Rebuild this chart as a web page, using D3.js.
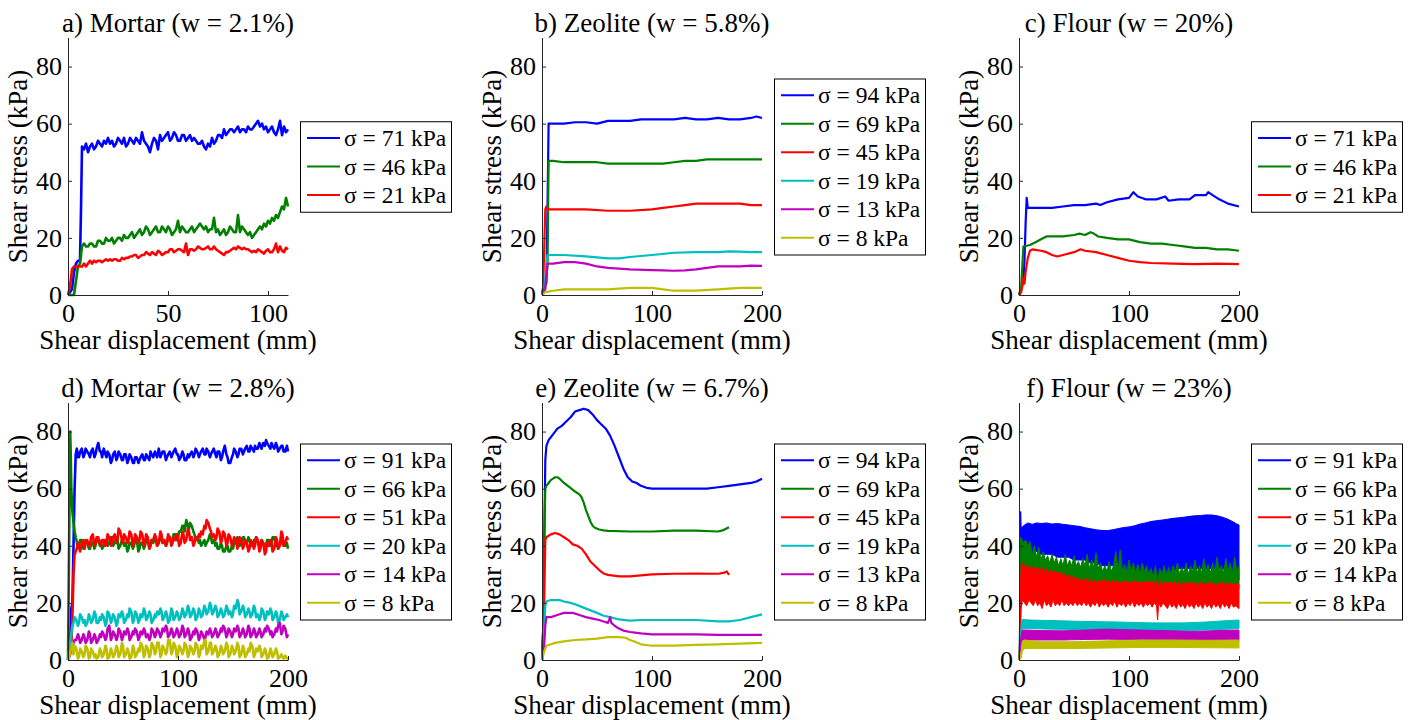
<!DOCTYPE html>
<meta charset="utf-8">
<script src="https://d3js.org/d3.v7.min.js"></script>
<div id="chart"></div>
<script>

// ---- data: [shear displacement (mm), shear stress (kPa)] ----

// a) Mortar, w = 2.1 %
const a71 = [[0,0],[2,2],[3,8],[4,11],[5,12],[6,12],[6.5,30],[7,52],[8,51],[9,53],[10,50],[11,52],[12,53],[13,51],[14,52],[15,54],[16,53],[17,52],[18,54],[19,53],[20,55],[21,53],[22,54],[23,52],[24,53],[25,55],[26,54],[27,53],[28,55],[29,52],[30,53],[31,55],[32,54],[33,53],[34,55],[35,54],[36,53],[37,57],[38,54],[39,53],[40,52],[41,50],[42,53],[43,55],[44,54],[45,51],[46,56],[47,54],[48,55],[49,56],[50,57],[51,54],[52,55],[53,57],[54,56],[55,54],[56,54],[57,56],[58,56],[59,54],[60,55],[61,56],[62,54],[63,55],[64,54],[65,53],[66,53],[67,54],[68,52],[69,51],[70,53],[71,52],[72,55],[73,53],[74,54],[75,56],[76,56],[77,55],[78,58],[79,56],[80,57],[81,58],[82,58],[83,57],[84,58],[85,59],[86,57],[87,58],[88,58],[89,57],[90,59],[91,58],[92,58],[93,59],[94,60],[95,61],[96,59],[97,60],[98,58],[99,59],[100,57],[101,58],[102,59],[103,57],[104,56],[105,58],[106,61],[107,56],[108,59],[109,57],[110,58]];
const a46 = [[0,0],[3,0],[4,5],[5,10],[6,11],[7,17],[8,18],[9,17],[10,17],[11,18],[12,18],[13,17],[14,17],[15,19],[16,19],[17,18],[18,18],[19,20],[20,19],[21,19],[22,20],[23,18],[24,19],[25,20],[26,20],[27,19],[28,21],[29,20],[30,20],[31,21],[32,22],[33,20],[34,21],[35,22],[36,23],[37,21],[38,22],[39,24],[40,23],[41,21],[42,22],[43,23],[44,24],[45,22],[46,22],[47,24],[48,23],[49,22],[50,24],[51,23],[52,21],[53,22],[54,23],[55,26],[56,22],[57,24],[58,23],[59,22],[60,22],[61,23],[62,24],[63,22],[64,23],[65,24],[66,25],[67,24],[68,23],[69,24],[70,22],[71,23],[72,23],[73,27],[74,22],[75,23],[76,21],[77,22],[78,23],[79,21],[80,22],[81,24],[82,23],[83,22],[84,22],[85,28],[86,22],[87,24],[88,23],[89,22],[90,21],[91,22],[92,20],[93,21],[94,22],[95,23],[96,24],[97,23],[98,25],[99,24],[100,26],[101,25],[102,27],[103,26],[104,28],[105,27],[106,29],[107,31],[108,30],[109,34],[110,31]];
const a21 = [[0,0],[1,3],[2,9],[3,10],[5,10],[7,10],[8,11],[9,10],[10,11],[11,12],[12,11],[13,12],[14,11.5],[15,12],[16,12],[17,11.5],[18,12],[19,12.5],[20,12],[21,12.5],[22,12],[23,12.5],[24,12.5],[25,12],[26,12],[27,13],[28,12.5],[29,13],[30,13],[31,13.5],[32,13.5],[33,14],[34,14],[35,13],[36,13.5],[37,14],[38,14],[39,15],[40,14.5],[41,14],[42,15],[43,14.5],[44,14],[45,15.5],[46,15],[47,14],[48,14.5],[49,15],[50,15],[51,16],[52,16],[53,15],[54,15.5],[55,16],[56,16],[57,15.5],[58,15],[59,18],[60,14],[61,16],[62,16],[63,15.5],[64,16],[65,17],[66,16.5],[67,16],[68,16],[69,16.5],[70,17],[71,16],[72,16],[73,17],[74,16],[75,15.5],[76,15],[77,14.5],[78,14],[79,15],[80,15],[81,15.5],[82,16],[83,16.5],[84,16],[85,17],[86,16.5],[87,16],[88,16.5],[89,16],[90,16],[91,15.5],[92,15],[93,15.5],[94,15],[95,16],[96,15.5],[97,15],[98,14.5],[99,15.5],[100,16],[101,15],[102,15],[103,16],[104,18],[105,15],[106,17],[107,15.5],[108,15],[109,16.5],[110,16]];

// b) Zeolite, w = 5.8 %
const b94 = [[0,0],[2,5],[4,4],[5,30],[6,60],[10,60],[20,60],[30,60.5],[40,60.5],[50,60],[60,61],[70,61],[80,61],[90,61.5],[100,61.5],[110,61.5],[120,61.5],[130,62],[140,61.5],[150,61.5],[160,62],[170,61.5],[180,61.5],[190,62],[195,62.5],[200,62]];
const b69 = [[0,0],[3,2],[5,10],[6,47],[10,47],[20,46.5],[30,46.5],[40,46.5],[50,46.5],[60,46],[70,46],[80,46],[90,46],[100,46],[110,46],[120,46.5],[130,47],[140,47],[150,47.5],[160,47.5],[170,47.5],[180,47.5],[190,47.5],[200,47.5]];
const b45 = [[0,0],[1,2],[3,30],[4,31],[5,30],[20,30],[40,30],[60,29.5],[80,29.5],[100,30],[110,30.5],[120,31],[130,31.5],[140,32],[150,32],[160,32],[170,32],[180,32],[190,31.5],[200,31.5]];
const b19 = [[0,0],[2,2],[5,14],[20,14],[40,13.5],[60,12.8],[70,12.8],[80,13.3],[100,14],[120,14.8],[140,15],[160,15],[170,15.3],[180,15.2],[190,15],[200,15]];
const b13 = [[0,0],[3,3],[5,11],[10,11],[20,11.5],[30,11.5],[40,11],[50,10],[60,9.5],[80,9],[100,8.7],[110,8.6],[120,8.5],[130,8.6],[140,9],[150,9.5],[160,10],[180,10],[190,10.3],[200,10.2]];
const b8 = [[0,0],[3,1],[10,1.5],[20,2],[40,2],[60,2],[80,2.5],[100,2.5],[110,2],[120,1.5],[140,1.5],[160,2],[180,2.5],[200,2.5]];

// c) Flour, w = 20 %
const c71 = [[0,0],[2,2],[4,5],[5,12],[6,25],[7,34],[8,30.5],[10,30.5],[20,30.5],[30,30.5],[40,31],[50,31.5],[60,31.5],[70,32],[74,31.5],[80,32.5],[90,33.5],[100,34],[104,36],[108,34.5],[115,33.5],[125,33.5],[133,34.5],[136,33],[145,33.5],[155,33.5],[160,35],[170,35],[172,36],[176,35],[182,33.5],[190,32],[200,31]];
const c46 = [[0,0],[2,3],[3,10],[4,17],[10,17.5],[15,18.5],[20,19.5],[25,20.5],[30,20.5],[40,20.5],[50,21],[55,21.5],[60,21],[65,22],[68,21.5],[72,20.5],[80,20],[90,19.5],[100,19.5],[110,18.5],[120,18],[130,18],[140,17.5],[150,17],[160,16.5],[170,16.5],[180,16],[190,16],[200,15.5]];
const c21 = [[0,0],[2,1],[3,3],[4,6],[5,4],[6,8],[8,13],[10,15.5],[12,16],[20,15.5],[25,15],[30,14],[35,13.5],[40,14],[50,15],[56,16],[60,15.5],[70,15],[80,14],[90,13],[100,12],[110,11.5],[120,11.2],[140,11],[160,10.8],[180,11],[200,10.8]];

// d) Mortar, w = 2.8 %
const d91 = [[0,0],[2,5],[3,18],[4,20],[5,40],[6,60],[7,72],[8,74],[9,71],[10,71],[11,73],[12.5,74],[14,71],[15,72],[16,74],[17.5,73],[19,72],[20,71],[21,73],[22.5,74],[24,71],[25,72],[26,74],[27.5,76],[29,73],[30,73],[31,71],[32.5,74],[34,72],[35,71],[36,73],[37.5,72],[39,69],[40,70],[41,72],[42.5,73],[44,70],[45,71],[46,73],[47.5,72],[49,70],[50,70],[51,72],[52.5,72],[54,69],[55,70],[56,72],[57.5,71],[59,69],[60,69],[61,71],[62.5,71],[64,69],[65,70],[66,71],[67.5,72],[69,70],[70,70],[71,72],[72.5,71],[74,70],[75,73],[76,72],[77.5,71],[79,73],[80,72],[81,71],[82.5,74],[84,71],[85,72],[86,73],[87.5,73],[89,70],[90,71],[91,72],[92.5,73],[94,71],[95,72],[96,73],[97.5,74],[99,72],[100,72],[101,70],[102.5,71],[104,73],[105,72],[106,70],[107.5,70],[109,72],[110,71],[111,72],[112.5,73],[114,71],[115,72],[116,74],[117.5,73],[119,71],[120,72],[121,73],[122.5,74],[124,72],[125,72],[126,74],[127.5,73],[129,71],[130,72],[131,73],[132.5,74],[134,72],[135,71],[136,73],[137.5,73],[139,70],[140,71],[141,73],[142.5,75],[144,72],[145,71],[146,69],[147.5,69],[149,71],[150,72],[151,74],[152.5,73],[154,71],[155,72],[156,74],[157.5,74],[159,72],[160,73],[161,74],[162.5,75],[164,73],[165,73],[166,75],[167.5,74],[169,73],[170,75],[171,74],[172.5,74],[174,76],[175,75],[176,74],[177.5,76],[179,75],[180,77],[181,76],[182.5,75],[184,74],[185,76],[186,75],[187.5,74],[189,76],[190,75],[191,73],[192.5,74],[194,75],[195,75],[196,73],[197.5,73],[199,75],[200,73]];
const d66 = [[0,0],[1,40],[2,80],[2.5,72],[3,60],[4,52],[5,48],[6,45],[7,43],[8,41.5],[9,39],[10,40],[11,42],[12.5,42],[14,39],[15,40],[16,42],[17.5,41],[19,39],[20,39],[21,41],[22.5,41],[24,39],[25,40],[26,42],[27.5,42],[29,40],[30,41],[31,39],[32.5,40],[34,42],[35,42],[36,40],[37.5,41],[39,43],[40,43],[41,40],[42.5,41],[44,43],[45,42],[46,39],[47.5,40],[49,42],[50,42],[51,40],[52.5,41],[54,38],[55,39],[56,41],[57.5,41],[59,39],[60,40],[61,42],[62.5,42],[64,38],[65,39],[66,41],[67.5,41],[69,39],[70,40],[71,42],[72.5,42],[74,39],[75,40],[76,42],[77.5,41],[79,43],[80,42],[81,40],[82.5,41],[84,43],[85,43],[86,41],[87.5,42],[89,40],[90,41],[91,43],[92.5,43],[94,41],[95,42],[96,44],[97.5,44],[99,42],[100,43],[101,45],[102.5,45],[104,47],[105,47],[106,45],[107.5,49],[109,47],[110,46],[111,48],[112.5,47],[114,45],[115,44],[116,42],[117.5,43],[119,41],[120,42],[121,40],[122.5,41],[124,42],[125,40],[126,41],[127.5,42],[129,44],[130,43],[131,41],[132.5,42],[134,40],[135,41],[136,39],[137.5,39],[139,41],[140,40],[141,38],[142.5,38],[144,40],[145,40],[146,38],[147.5,38],[149,40],[150,39],[151,41],[152.5,41],[154,43],[155,42],[156,40],[157.5,41],[159,43],[160,43],[161,41],[162.5,41],[164,43],[165,42],[166,40],[167.5,40],[169,42],[170,41],[171,43],[172.5,42],[174,40],[175,40],[176,42],[177.5,41],[179,39],[180,40],[181,42],[182.5,42],[184,40],[185,41],[186,43],[187.5,43],[189,40],[190,41],[191,39],[192.5,40],[194,42],[195,42],[196,40],[197.5,40],[199,41],[200,39]];
const d51 = [[0,0],[2,2],[3,5],[4,15],[5,30],[6,37],[7,38],[8,39],[9,41],[10,40],[11,38],[12.5,41],[14,42],[15,39],[16,41],[17.5,42],[19,40],[20,40],[21,43],[22.5,44],[24,40],[25,41],[26,43],[27.5,43],[29,41],[30,40],[31,42],[32.5,42],[34,40],[35,41],[36,44],[37.5,43],[39,40],[40,41],[41,43],[42.5,44],[44,41],[45,42],[46,46],[47.5,45],[49,42],[50,41],[51,44],[52.5,43],[54,41],[55,42],[56,45],[57.5,44],[59,40],[60,41],[61,44],[62.5,43],[64,41],[65,42],[66,45],[67.5,44],[69,40],[70,41],[71,44],[72.5,43],[74,39],[75,40],[76,42],[77.5,42],[79,44],[80,43],[81,40],[82.5,41],[84,45],[85,44],[86,41],[87.5,42],[89,40],[90,41],[91,44],[92.5,43],[94,40],[95,41],[96,43],[97.5,42],[99,44],[100,43],[101,40],[102.5,41],[104,45],[105,44],[106,41],[107.5,42],[109,46],[110,45],[111,42],[112.5,43],[114,40],[115,41],[116,43],[117.5,42],[119,44],[120,43],[121,45],[122.5,44],[124,47],[125,46],[126,49],[127.5,48],[129,46],[130,45],[131,43],[132.5,44],[134,42],[135,43],[136,46],[137.5,45],[139,41],[140,42],[141,45],[142.5,44],[144,40],[145,41],[146,44],[147.5,43],[149,40],[150,41],[151,43],[152.5,42],[154,39],[155,40],[156,43],[157.5,42],[159,39],[160,40],[161,42],[162.5,41],[164,38],[165,39],[166,42],[167.5,41],[169,39],[170,40],[171,43],[172.5,42],[174,38],[175,39],[176,42],[177.5,41],[179,37],[180,38],[181,41],[182.5,40],[184,42],[185,41],[186,38],[187.5,39],[189,43],[190,42],[191,39],[192.5,40],[194,45],[195,44],[196,40],[197.5,41],[199,43],[200,42]];
const d20 = [[0,0],[1,3],[2,6],[3,9],[4,12],[5,13],[6,15],[7.5,14],[9,12],[10,13],[11,16],[12.5,15],[14,13],[15,14],[16,12],[17.5,13],[19,16],[20,15],[21,13],[22.5,14],[24,17],[25,16],[26,13],[27.5,13],[29,15],[30,14],[31,16],[32.5,15],[34,12],[35,13],[36,17],[37.5,16],[39,13],[40,14],[41,16],[42.5,15],[44,12],[45,13],[46,16],[47.5,15],[49,17],[50,16],[51,13],[52.5,14],[54,16],[55,15],[56,18],[57.5,17],[59,13],[60,14],[61,17],[62.5,16],[64,13],[65,14],[66,16],[67.5,15],[69,18],[70,17],[71,14],[72.5,15],[74,17],[75,16],[76,13],[77.5,14],[79,16],[80,15],[81,17],[82.5,16],[84,18],[85,17],[86,14],[87.5,15],[89,17],[90,16],[91,13],[92.5,14],[94,18],[95,17],[96,14],[97.5,15],[99,17],[100,16],[101,14],[102.5,15],[104,18],[105,17],[106,15],[107.5,16],[109,19],[110,18],[111,15],[112.5,16],[114,18],[115,17],[116,14],[117.5,15],[119,18],[120,17],[121,15],[122.5,16],[124,19],[125,18],[126,16],[127.5,17],[129,20],[130,19],[131,16],[132.5,17],[134,19],[135,18],[136,15],[137.5,16],[139,18],[140,17],[141,15],[142.5,16],[144,19],[145,18],[146,16],[147.5,17],[149,15],[150,16],[151,19],[152.5,18],[154,21],[155,20],[156,16],[157.5,17],[159,19],[160,18],[161,15],[162.5,16],[164,18],[165,17],[166,15],[167.5,16],[169,19],[170,18],[171,15],[172.5,16],[174,14],[175,15],[176,18],[177.5,17],[179,14],[180,15],[181,17],[182.5,16],[184,18],[185,17],[186,14],[187.5,15],[189,17],[190,16],[191,13],[192.5,14],[194,17],[195,16],[196,14],[197.5,15],[199,16],[200,15]];
const d14 = [[0,0],[1,2],[3,4],[5,6],[6,7],[7.5,7],[9,9],[10,8],[11,6],[12.5,7],[14,9],[15,8],[16,6],[17.5,7],[19,10],[20,9],[21,6],[22.5,7],[24,9],[25,8],[26,6],[27.5,7],[29,9],[30,8],[31,10],[32.5,9],[34,7],[35,8],[36,11],[37.5,12],[39,7],[40,8],[41,10],[42.5,9],[44,7],[45,8],[46,11],[47.5,10],[49,7],[50,8],[51,10],[52.5,9],[54,11],[55,10],[56,7],[57.5,8],[59,10],[60,9],[61,11],[62.5,10],[64,7],[65,8],[66,10],[67.5,9],[69,11],[70,10],[71,8],[72.5,9],[74,7],[75,8],[76,11],[77.5,10],[79,8],[80,9],[81,11],[82.5,10],[84,8],[85,9],[86,11],[87.5,10],[89,12],[90,11],[91,8],[92.5,9],[94,11],[95,10],[96,8],[97.5,9],[99,11],[100,10],[101,8],[102.5,9],[104,12],[105,11],[106,8],[107.5,9],[109,11],[110,10],[111,7],[112.5,8],[114,10],[115,9],[116,11],[117.5,10],[119,7],[120,8],[121,10],[122.5,9],[124,7],[125,8],[126,10],[127.5,9],[129,11],[130,10],[131,8],[132.5,9],[134,11],[135,10],[136,8],[137.5,9],[139,11],[140,10],[141,12],[142.5,11],[144,8],[145,9],[146,11],[147.5,10],[149,8],[150,9],[151,11],[152.5,10],[154,12],[155,11],[156,8],[157.5,9],[159,11],[160,10],[161,8],[162.5,9],[164,12],[165,11],[166,8],[167.5,9],[169,11],[170,10],[171,8],[172.5,9],[174,11],[175,10],[176,8],[177.5,9],[179,11],[180,10],[181,12],[182.5,11],[184,9],[185,10],[186,8],[187.5,9],[189,11],[190,10],[191,12],[192.5,13],[194,9],[195,10],[196,12],[197.5,11],[199,8],[200,9]];
const d8 = [[0,0],[1,1],[2,3],[3,4],[4,6],[5,2],[6,5],[7.5,4],[9,0.5],[10,1],[11,4],[12.5,3],[14,1],[15,2],[16,5],[17.5,4],[19,0.5],[20,1],[21,4],[22.5,3],[24,1],[25,2],[26,0.5],[27.5,1],[29,4],[30,3],[31,1],[32.5,2],[34,5],[35,4],[36,0.5],[37.5,1],[39,4],[40,3],[41,1],[42.5,2],[44,5],[45,4],[46,1],[47.5,2],[49,6],[50,5],[51,1],[52.5,2],[54,4],[55,3],[56,0.5],[57.5,1],[59,5],[60,4],[61,1],[62.5,2],[64,4],[65,3],[66,6],[67.5,5],[69,1],[70,2],[71,5],[72.5,4],[74,1],[75,2],[76,6],[77.5,5],[79,2],[80,3],[81,6],[82.5,6],[84,1],[85,2],[86,5],[87.5,4],[89,2],[90,3],[91,7],[92.5,7],[94,2],[95,3],[96,6],[97.5,5],[99,1],[100,2],[101,5],[102.5,4],[104,2],[105,3],[106,6],[107.5,5],[109,1],[110,2],[111,5],[112.5,4],[114,2],[115,3],[116,6],[117.5,5],[119,1],[120,2],[121,5],[122.5,4],[124,7],[125,7],[126,2],[127.5,3],[129,6],[130,6],[131,2],[132.5,3],[134,5],[135,4],[136,1],[137.5,2],[139,5],[140,4],[141,2],[142.5,3],[144,6],[145,5],[146,1],[147.5,2],[149,5],[150,4],[151,2],[152.5,3],[154,6],[155,5],[156,1],[157.5,2],[159,5],[160,4],[161,1],[162.5,2],[164,4],[165,3],[166,6],[167.5,5],[169,1],[170,2],[171,4],[172.5,3],[174,5],[175,4],[176,1],[177.5,2],[179,4],[180,3],[181,0.5],[182.5,1],[184,4],[185,3],[186,1],[187.5,2],[189,4],[190,3],[191,0.5],[192.5,1],[194,2],[195,1],[196,0.5],[197.5,1.5],[199,0.5],[200,0.5]];

// e) Zeolite, w = 6.7 %
const e94 = [[0,0],[1,10],[2,40],[3,70],[4,75],[6,77],[10,79],[14,81],[18,82],[22,83.5],[26,85],[30,87],[34,87.5],[38,88],[42,87.5],[46,86],[50,84],[54,82.5],[58,81],[62,78.5],[66,75],[70,71],[74,67],[78,64],[82,62.5],[86,62],[90,61],[95,60.3],[100,60],[110,60],[120,60],[130,60],[140,60],[150,60],[160,60.5],[170,61],[180,61.5],[190,62],[195,62.5],[200,63.5]];
const e69 = [[0,0],[1,10],[2,40],[3,60],[4,61],[6,62],[8,63],[10,63.5],[12,64],[14,64],[16,63.5],[20,62],[25,60.5],[30,59],[34,58],[36,57],[38,55],[40,52.5],[42,50.5],[44,48.5],[46,47],[48,46.3],[52,45.7],[56,45.4],[60,45.2],[80,45],[100,45],[120,45.3],[140,45.3],[160,45],[165,45.5],[170,46.5]];
const e45 = [[0,0],[2,20],[3,42],[4,43],[8,44],[12,44.5],[16,44],[20,43],[24,42],[28,40.5],[32,40],[36,39],[40,37],[44,34.5],[48,33],[52,31.5],[56,30.3],[60,29.8],[70,29.3],[80,29.3],[100,30],[120,30.2],[140,30.3],[160,30.2],[165,30.5],[168,31],[170,29.8]];
const e19 = [[0,0],[1,5],[2,10],[3,19],[4,20.5],[8,21],[12,21],[16,21],[20,20.5],[26,20],[30,19.5],[40,18],[50,16.5],[56,15.5],[62,15],[70,14.2],[80,13.8],[90,14],[100,14],[120,14],[140,14],[160,13.5],[170,13.5],[180,14],[190,15],[200,16]];
const e13 = [[0,0],[2,5],[3,12],[4,15],[8,15],[12,15.5],[16,16],[20,16.5],[24,16.5],[28,16.5],[32,16],[36,15.5],[40,15],[46,14.5],[52,14],[56,13.5],[60,13],[62,15],[63,13],[66,12],[70,11],[74,10.3],[80,9.8],[90,9.3],[100,9],[120,9],[140,9],[160,8.8],[180,8.8],[200,8.8]];
const e8 = [[0,0],[2,3],[4,5],[8,5.5],[12,6],[20,6.5],[30,7],[40,7.2],[50,7.5],[60,8],[70,8],[76,7.8],[80,7],[84,6.5],[90,5.5],[100,5],[110,5],[120,5],[140,5.3],[160,5.5],[180,5.7],[200,6]];

// f) Flour, w = 23 %  -- strongly oscillating records, kept as [x, min, max]
const f91 = [[0,0,0],[0.5,0,8],[1,3,30],[1.5,20,52],[2,36,46],[4,38,47],[8,38,48],[12,37,47.5],[16,38,48],[20,37,47.8],[25,37,48],[30,37,47.6],[35,36,47.8],[40,36,47.5],[45,36,47.3],[50,35,47],[55,35,46.8],[60,35,46.3],[65,34,46],[70,34,45.6],[75,33,45.4],[80,33,45.3],[85,33,45.6],[90,32,46],[95,32,46.4],[100,31,46.6],[105,31,47],[110,30,47.6],[115,30,48],[120,28,48.5],[125,27,48.8],[130,29,49],[135,30,49.3],[140,31,49.6],[145,32,49.8],[150,32,50],[155,32,50.3],[160,32,50.5],[165,32,50.6],[170,32,50.8],[175,32,50.8],[180,32,50.5],[185,32,50],[190,31,49.3],[195,31,48.3],[198,30,47.6],[200,28,47.3]];
const f66 = [[0,0,0],[0.5,2,15],[1,10,38],[1.5,25,43],[2,28,42.5],[4,28,41],[6,27,42],[8,27,40],[10,28,41.5],[12,27,37],[14,27,40],[16,27,36],[18,26,39.5],[20,27,35],[22,26,38],[24,27,35],[26,26,36.5],[28,26,34],[30,27,37],[32,26,34],[34,26,36],[36,26,33],[38,26,35.5],[40,26,33],[42,25,37],[44,26,33],[46,25,35],[48,26,33],[50,25,36.5],[52,25,33],[54,26,34.5],[56,25,32.5],[58,25,35.5],[60,25,33],[62,26,37],[64,25,32],[66,25,35],[68,25,32.5],[70,25,37.5],[72,25,32],[74,25,34],[76,26,31],[78,26,33],[80,25,31],[82,26,34.5],[84,26,31],[86,25,33],[88,26,38],[90,25,31],[92,26,38.5],[94,26,31],[96,25,33.5],[98,26,30.5],[100,25,35],[102,26,31],[104,26,34],[106,25,30.5],[108,25,33.5],[110,26,30],[112,25,34],[114,25,31],[116,26,33],[118,25,30],[120,24,32],[122,24,29],[124,22,33],[126,20,27.5],[128,22,32],[130,25,30],[132,26,33],[134,25,30],[136,26,32.5],[138,25,30],[140,26,33],[142,25,30.5],[144,26,34],[146,25,30],[148,26,32.5],[150,26,30.5],[152,25,34],[154,26,30],[156,25,33],[158,26,31],[160,25,35],[162,26,30.5],[164,25,33],[166,26,30.5],[168,25,35.5],[170,26,31],[172,25,33.5],[174,26,30.5],[176,25,34],[178,26,31],[180,25,36],[182,26,31],[184,25,33],[186,26,30.5],[188,25,35.5],[190,26,31],[192,25,34],[194,26,30.5],[196,25,36],[198,26,31],[200,25,33]];
const f51 = [[0,0,0],[0.5,1,5],[1,3,15],[1.5,10,28],[2,18,33],[3,21,34],[5,20,33.5],[7,19,32],[9,21,33],[11,20,31.5],[13,19,33],[15,21,31],[17,19,32.5],[19,20,31],[21,18,32.5],[23,21,30.5],[25,19,32],[27,20,30.5],[29,18.5,31.5],[31,21,30],[33,19,31.5],[35,20,30],[37,19,31],[39,21,29.5],[41,19,30.5],[43,20,29],[45,19,30],[47,20,28.5],[49,19,29.5],[51,20.5,28],[53,19,29],[55,20,27.5],[57,19,28.5],[59,20.5,27.5],[61,19,28.5],[63,20,27],[65,18.5,28.5],[67,20,27],[69,19,28],[71,20.5,26.5],[73,18.5,28],[75,20,27],[77,19,28.5],[79,20,27],[81,18.5,28],[83,20,26.5],[85,19,28],[87,20.5,27],[89,18.5,28],[91,20,26.5],[93,19,27.5],[95,20,26.5],[97,18.5,28],[99,20,27],[101,19,27.5],[103,20.5,26.5],[105,18.5,28],[107,20,27],[109,19,27.5],[111,20,26.5],[113,18.5,27.5],[115,20,26.5],[117,19,28],[119,20,27],[121,18.5,27.5],[123,20,26.5],[125,19,28],[126,14,27],[127,20,25],[129,18.5,27.5],[131,20,26.5],[133,19,27.5],[135,18,26.5],[137,20,27.5],[139,18.5,26.5],[141,19.5,27.5],[143,18,26.5],[145,20,27.5],[147,18.5,26],[149,19.5,27],[151,18,26.5],[153,20,27.5],[155,18.5,26],[157,19.5,27.5],[159,18,26.5],[161,20,27],[163,18.5,26],[165,19.5,27.5],[167,18,26.5],[169,20,27],[171,18.5,26],[173,19.5,27.5],[175,18,26.5],[177,20,27],[179,18.5,26],[181,19.5,27],[183,18,26.5],[185,20,27.5],[187,18.5,26],[189,19.5,27],[191,18,26.5],[193,20,27],[195,18.5,26],[197,19,27],[200,18,26.5]];
const f20 = [[0,0,0],[1,2,6],[2,8,13],[3,11,14.2],[10,11,14],[30,10.8,13.8],[60,10.6,13.5],[90,10.5,13.3],[120,10.3,13],[150,10.2,13],[170,10.5,13.3],[190,10.8,13.8],[200,11,14]];
const f14 = [[0,0,0],[1,2,5],[2,5,9],[3,7,10.5],[6,7,10.5],[20,7,10.3],[40,7,10.2],[60,7.2,10.5],[80,7.3,10.8],[100,7.2,10.6],[120,7,10.4],[140,6.8,10.2],[160,6.8,10],[180,6.8,10.3],[200,6.8,10.5]];
const f8 = [[0,0,0.5],[1,0.5,2],[2,0.5,3],[3,3,6.5],[5,4,7],[20,4,6.4],[50,4,6.4],[80,4.2,6.7],[110,4.4,7],[140,4.4,7],[170,4.3,6.9],[200,4.2,7]];

// normal stress of each test (legend entries), panel titles, axis ranges
const titles = ["a) Mortar (w = 2.1%)", "b) Zeolite (w = 5.8%)", "c) Flour (w = 20%)",
                "d) Mortar (w = 2.8%)", "e) Zeolite (w = 6.7%)", "f) Flour (w = 23%)"];
const sigmaA = [71, 46, 21];
const sigmaB = [94, 69, 45, 19, 13, 8];
const sigmaC = [71, 46, 21];
const sigmaD = [91, 66, 51, 20, 14, 8];
const sigmaE = [94, 69, 45, 19, 13, 8];
const sigmaF = [91, 66, 51, 20, 14, 8];
const xMaxA = 110, xMaxOther = 200;
const xTicksA = [0, 50, 100];
const xTicksOther = [0, 100, 200];
const yMax = 90;
const yTicks = [0, 20, 40, 60, 80];

const panels = [
  { title: titles[0], xMax: xMaxA,     xTicks: xTicksA,     sigma: sigmaA, lines: [a71, a46, a21], noisy: true },
  { title: titles[1], xMax: xMaxOther, xTicks: xTicksOther, sigma: sigmaB, lines: [b94, b69, b45, b19, b13, b8] },
  { title: titles[2], xMax: xMaxOther, xTicks: xTicksOther, sigma: sigmaC, lines: [c71, c46, c21] },
  { title: titles[3], xMax: xMaxOther, xTicks: xTicksOther, sigma: sigmaD, lines: [d91, d66, d51, d20, d14, d8], noisy: true },
  { title: titles[4], xMax: xMaxOther, xTicks: xTicksOther, sigma: sigmaE, lines: [e94, e69, e45, e19, e13, e8] },
  { title: titles[5], xMax: xMaxOther, xTicks: xTicksOther, sigma: sigmaF, bands: [f91, f66, f51, f20, f14, f8] }
];

// ---- layout ----
const colLeft = [68, 542, 1019];
const rowTop = [38, 403];
const plotW = 220, plotH = 257;
const colors = ["#0000ff", "#008000", "#ff0000", "#00bfbf", "#bf00bf", "#bfbf00"];
const axisColor = "#262626";
const serif = "Liberation Serif";

d3.select("body").style("margin", "0").style("background", "#fff");

const svg = d3.select("#chart")
  .append("svg")
    .attr("width", 1421)
    .attr("height", 720);

// all labels go through here so they share the serif face
function label(sel, size) {
  return sel.attr("font-family", serif)
    .attr("font-size", size)
    .style("font-family", serif)
    .style("font-size", size + "px");
}

panels.forEach((p, i) => {
  const g = svg.append("g")
    .attr("transform", `translate(${colLeft[i % 3]},${rowTop[Math.floor(i / 3)]})`);

  const x = d3.scaleLinear().domain([0, p.xMax]).range([0, plotW]);
  const y = d3.scaleLinear().domain([0, yMax]).range([plotH, 0]);

  // curves
  if (p.lines) {
    const line = d3.line().x(d => x(d[0])).y(d => y(d[1]));
    p.lines.forEach((s, k) => {
      g.append("path")
        .datum(s)
        .attr("d", line)
        .attr("fill", "none")
        .attr("stroke", colors[k])
        .attr("stroke-width", p.noisy ? 2.6 : 2.2)
        .attr("stroke-linejoin", "round");
    });
  }
  if (p.bands) {
    const area = d3.area().x(d => x(d[0])).y0(d => y(d[1])).y1(d => y(d[2]));
    p.bands.forEach((s, k) => {
      g.append("path")
        .datum(s)
        .attr("d", area)
        .attr("fill", colors[k])
        .attr("stroke", colors[k])
        .attr("stroke-width", 1);
    });
  }

  // axes, ticks pointing inward
  const yAxis = g.append("g")
    .call(d3.axisLeft(y).tickValues(yTicks).tickSizeInner(-4).tickSizeOuter(0).tickPadding(6));
  const xAxis = g.append("g")
    .attr("transform", `translate(0,${plotH})`)
    .call(d3.axisBottom(x).tickValues(p.xTicks).tickSizeInner(-4).tickSizeOuter(0).tickPadding(9));
  [yAxis, xAxis].forEach(ax => {
    ax.attr("font-family", null).attr("font-size", null);
    ax.selectAll("path, line").attr("stroke", axisColor);
    label(ax.selectAll("text"), 26).attr("fill", "#000");
  });
  // top of the y axis reaches the axis limit
  yAxis.select(".domain").attr("d", `M0.5,${plotH}V0`);

  label(g.append("text"), 27)
    .attr("x", plotW / 2)
    .attr("y", -6)
    .attr("text-anchor", "middle")
    .text(p.title);

  label(g.append("text"), 27)
    .attr("x", plotW / 2)
    .attr("y", plotH + 54)
    .attr("text-anchor", "middle")
    .text("Shear displacement (mm)");

  label(g.append("text"), 27)
    .attr("transform", `translate(-41,${plotH / 2}) rotate(-90)`)
    .attr("text-anchor", "middle")
    .text("Shear stress (kPa)");

  // legend box, vertically centred beside the axes
  const rowH = 28.5;
  const boxH = p.sigma.length * rowH + 5;
  const leg = g.append("g")
    .attr("transform", `translate(${plotW + 12},${plotH / 2 - boxH / 2})`);
  leg.append("rect")
    .attr("x", 0.5).attr("y", 0.5)
    .attr("width", 151).attr("height", boxH)
    .attr("fill", "#fff")
    .attr("stroke", "#000")
    .attr("stroke-width", 1);
  p.sigma.forEach((s, k) => {
    const cy = 2.5 + rowH * (k + 0.5);
    leg.append("line")
      .attr("x1", 7).attr("x2", 40)
      .attr("y1", cy).attr("y2", cy)
      .attr("stroke", colors[k])
      .attr("stroke-width", 2);
    label(leg.append("text"), 23.5)
      .attr("x", 44)
      .attr("y", cy)
      .attr("dy", "0.35em")
      .text(`σ = ${s} kPa`);
  });
});

</script>
